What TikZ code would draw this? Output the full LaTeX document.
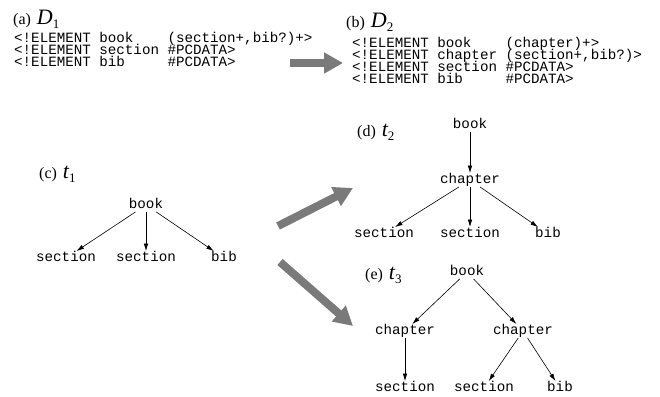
\documentclass[tikz,border=0pt]{standalone}
\usepackage{fontspec}
\setmainfont{Liberation Serif}
\newfontfamily\dtdfont{Liberation Mono}
\usetikzlibrary{arrows.meta}
\newcommand\panel[3]{{\fontsize{16}{16}\selectfont(#1)}\hspace{6pt}{\fontsize{22}{22}\selectfont\itshape #2}{\fontsize{13}{13}\selectfont\raisebox{-4pt}{#3}}}
\begin{document}
\begin{tikzpicture}[x=1pt,y=-1pt,
  dtd/.style={anchor=west,inner sep=0pt,font=\dtdfont\fontsize{14.2}{14}\selectfont,text height=8pt,text depth=1pt},
  el/.style={font=\dtdfont\fontsize{14.2}{14}\selectfont,inner sep=2pt,text height=8pt,text depth=1.5pt},
  edge/.style={-{Latex[length=7.5pt,width=4.5pt]},line width=.6pt},
  fat/.style={line width=8pt,black!52,-{Triangle[length=19pt,width=20pt]}},
  lab/.style={anchor=base west,inner sep=0pt}]
\useasboundingbox (0,0) rectangle (660,396);
% the two DTDs
\node[lab] (labA) at (13,25) {\panel{a}{D}{1}};
\node[dtd] (a1) at (14,39) {<!ELEMENT book~~~~(section+,bib?)+>};
\node[dtd] (a2) at (14,51) {<!ELEMENT section \#PCDATA>};
\node[dtd] (a3) at (14,63) {<!ELEMENT bib~~~~~\#PCDATA>};
\node[lab] (labB) at (346,28) {\panel{b}{D}{2}};
\node[dtd] (b1) at (352,44) {<!ELEMENT book~~~~(chapter)+>};
\node[dtd] (b2) at (352,56) {<!ELEMENT chapter (section+,bib?)>};
\node[dtd] (b3) at (352,68) {<!ELEMENT section \#PCDATA>};
\node[dtd] (b4) at (352,80) {<!ELEMENT bib~~~~~\#PCDATA>};
\coordinate (pA) at (290,63); \coordinate (qA) at (343,63);
\draw[fat] (pA) -- (qA);
% t1
\node[lab] (labC) at (39,178) {\panel{c}{t}{1}};
\node[el] (c0) at (146,205) {book};
\node[el] (c1) at (66,258) {section};
\node[el] (c2) at (146,258) {section};
\node[el] (c3) at (224,258) {bib};
\draw[edge] (c0) -- (c1); \draw[edge] (c0) -- (c2); \draw[edge] (c0) -- (c3);
% t2
\node[lab] (labD) at (357,136) {\panel{d}{t}{2}};
\node[el] (d0) at (470,125) {book};
\node[el] (d1) at (470,180) {chapter};
\node[el] (d2) at (384,234) {section};
\node[el] (d3) at (470,234) {section};
\node[el] (d4) at (548,234) {bib};
\draw[edge] (d0) -- (d1);
\draw[edge] (d1) -- (d2); \draw[edge] (d1) -- (d3); \draw[edge] (d1) -- (d4);
% t3
\node[lab] (labE) at (365,279) {\panel{e}{t}{3}};
\node[el] (e0) at (467,272) {book};
\node[el] (e1) at (405,331) {chapter};
\node[el] (e2) at (523,331) {chapter};
\node[el] (e3) at (405,388) {section};
\node[el] (e4) at (484,388) {section};
\node[el] (e5) at (560,388) {bib};
\draw[edge] (e0) -- (e1); \draw[edge] (e0) -- (e2);
\draw[edge] (e1) -- (e3); \draw[edge] (e2) -- (e4); \draw[edge] (e2) -- (e5);
% the transformations
\coordinate (pD) at (278,226); \coordinate (qD) at (353,188);
\coordinate (pE) at (280,262); \coordinate (qE) at (353,326);
\draw[fat] (pD) -- (qD); \draw[fat] (pE) -- (qE);
\end{tikzpicture}
\end{document}
